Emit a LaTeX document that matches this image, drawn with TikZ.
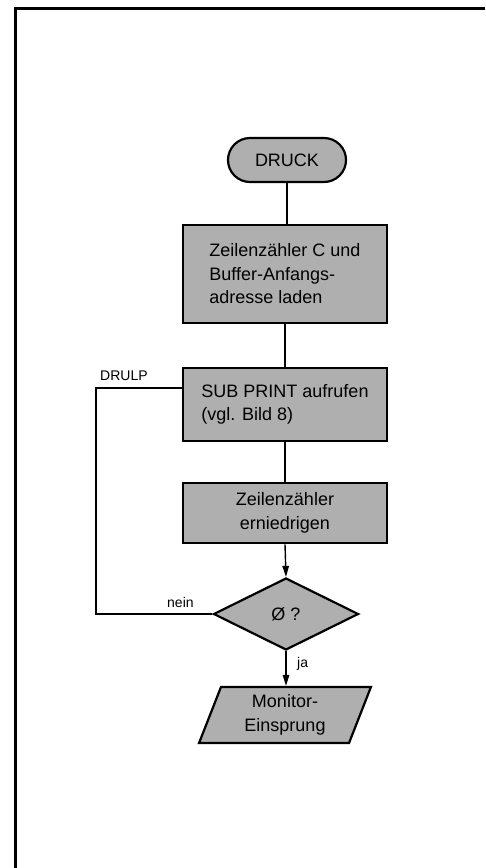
\documentclass[tikz,border=0pt]{standalone}
\usepackage{fontspec}
\setmainfont{Liberation Sans}
\usetikzlibrary{shapes.geometric,shapes.misc,arrows.meta}
\definecolor{boxgray}{RGB}{175,175,175}
\begin{document}
\begin{tikzpicture}[x=1pt,y=-1pt,
  every node/.style={font=\fontsize{18}{23.5}\selectfont},
  proc/.style={draw, line width=2.6pt, fill=boxgray, rectangle, minimum width=204pt, inner sep=0pt},
  term/.style={draw, line width=2.2pt, fill=boxgray, rounded rectangle, minimum width=118pt, minimum height=44pt, inner sep=0pt},
  decis/.style={draw, line width=2.2pt, fill=boxgray, diamond, minimum width=145pt, minimum height=72pt, inner sep=0pt},
  iobox/.style={draw, line width=2.2pt, fill=boxgray, trapezium, trapezium left angle=71, trapezium right angle=109, trapezium stretches=true, minimum width=172pt, minimum height=56pt, inner sep=0pt},
  conn/.style={line width=1.4pt},
  arr/.style={conn, -{Triangle[length=11pt,width=6.5pt]}},
  lbl/.style={font=\fontsize{14}{16}\selectfont, inner sep=0pt}
]
\useasboundingbox (0,0) rectangle (485,868);
\draw[line width=3pt] (15.5,868) -- (15.5,8.5) -- (485,8.5);

\node[term] (druck) at (287,160) {DRUCK};
\node[proc, minimum height=98pt, align=left] (b1) at (285,274) {Zeilenzähler C und\\Buffer-Anfangs-\\adresse laden};
\node[proc, minimum height=73pt, align=left] (b2) at (285,404.5) {SUB PRINT aufrufen\\(vgl. Bild 8)};
\node[proc, minimum height=60pt, align=center] (b3) at (285,513) {Zeilenzähler\\erniedrigen};
\node[decis] (dia) at (286,614) {Ø ?};
\node[iobox, align=center] (par) at (285,715) {Monitor-\\Einsprung};

\coordinate (lp) at (96,388);

\draw[conn] (druck.south) -- (druck.south |- b1.north);
\draw[conn] (b1.south) -- (b2.north);
\draw[conn] (b2.south) -- (b3.north);
\draw[arr] (b3.south) -- (dia.north);
\draw[arr] (dia.south) -- (dia.south |- par.north);
\draw[conn] (dia.west) -| (lp) -- (lp -| b2.west);

\node[lbl, anchor=south west] (drulp) at (100,381) {DRULP};
\node[lbl, anchor=south west] (nein) at (167,608) {nein};
\node[lbl, anchor=west] (ja) at (297,664) {ja};
\end{tikzpicture}
\end{document}
